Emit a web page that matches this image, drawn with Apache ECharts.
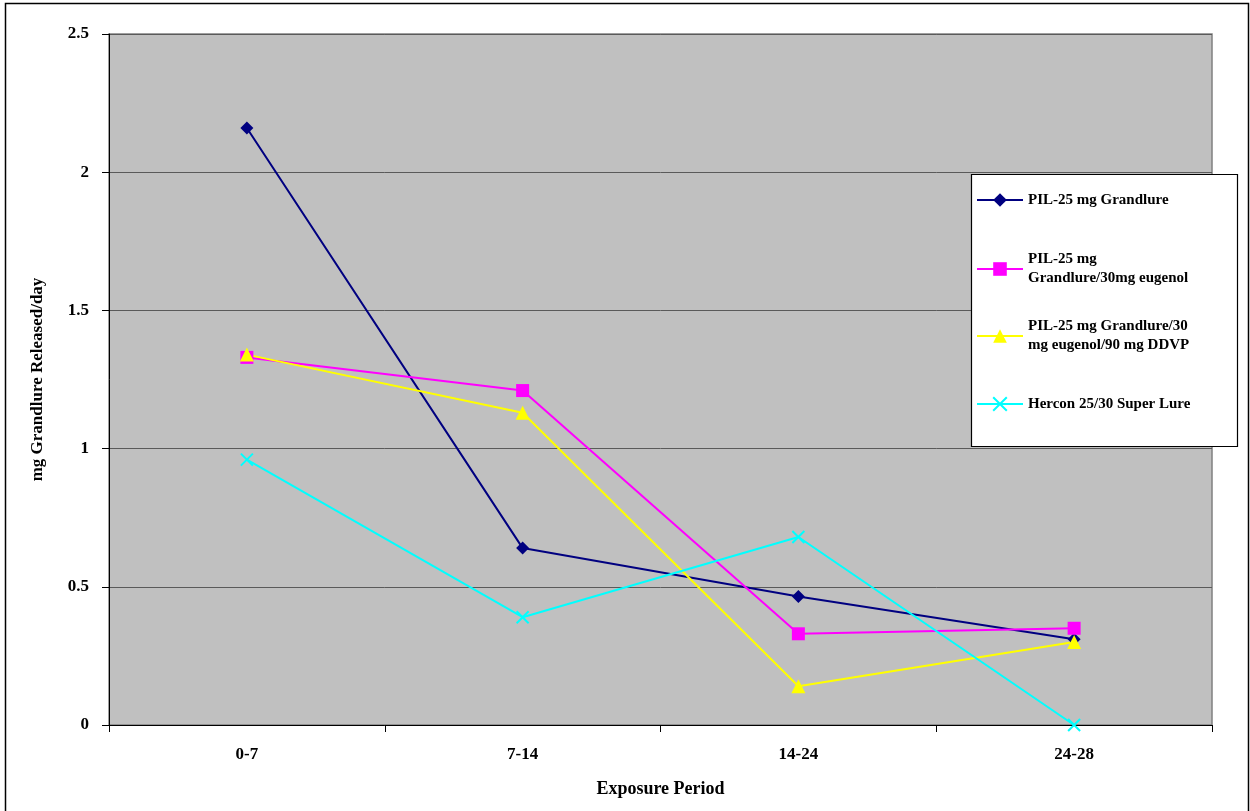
<!DOCTYPE html>
<html>
<head>
<meta charset="utf-8">
<script src="https://cdn.jsdelivr.net/npm/echarts@6/dist/echarts.min.js"></script>
<style>
  html, body { margin: 0; padding: 0; background: #ffffff; }
  #chart { width: 1250px; height: 811px; }
</style>
</head>
<body>
<div id="chart"></div>
<script>
// Exposure periods (days)
const periods = ['0-7', '7-14', '14-24', '24-28'];

// Series names
const nameA = 'PIL-25 mg Grandlure';
const nameB = 'PIL-25 mg\nGrandlure/30mg eugenol';
const nameC = 'PIL-25 mg Grandlure/30\nmg eugenol/90 mg DDVP';
const nameD = 'Hercon 25/30 Super Lure';

// mg Grandlure released per day
const grandlure        = [2.16, 0.64, 0.465, 0.31];
const grandlureEug     = [1.33, 1.21, 0.33, 0.35];
const grandlureEugDdvp = [1.34, 1.13, 0.14, 0.30];
const herconSuper      = [0.96, 0.39, 0.68, 0.0];

// Value axis ticks
const yTicks = [0, 0.5, 1, 1.5, 2, 2.5];

const FONT = "'Liberation Serif', 'Times New Roman', serif";
const crossPath = 'path://M0,0L10,10M10,0L0,10';

function lineSeries(name, data, color, symbol, size, extra) {
  return Object.assign({
    name: name,
    type: 'line',
    data: data,
    symbol: symbol,
    symbolSize: size,
    showAllSymbol: true,
    lineStyle: { color: color, width: 2 },
    itemStyle: { color: color, borderColor: color, borderWidth: 0 },
    emphasis: { disabled: true },
    animation: false,
    z: 5
  }, extra || {});
}

// One legend block per series so each entry sits at its own height
function legendFor(name, top, twoLine) {
  return {
    data: [{
      name: name,
      textStyle: twoLine ? { padding: [19, 0, 0, 0] } : {}
    }],
    left: 976,
    top: top,
    orient: 'vertical',
    padding: 0,
    itemWidth: 46,
    itemHeight: 17,
    selectedMode: false,
    z: 20,
    textStyle: {
      fontFamily: FONT,
      fontWeight: 'bold',
      fontSize: 15,
      lineHeight: 19,
      color: '#000000'
    }
  };
}

const chart = echarts.init(document.getElementById('chart'), null, { renderer: 'canvas' });

chart.setOption({
  backgroundColor: '#ffffff',
  animation: false,
  graphic: [
    {
      type: 'rect',
      shape: { x: 5.5, y: 3.5, width: 1243, height: 820 },
      style: { fill: 'none', stroke: '#000000', lineWidth: 1.5 },
      z: 0,
      silent: true
    },
    {
      type: 'rect',
      shape: { x: 971.5, y: 174.5, width: 266, height: 272 },
      style: { fill: '#ffffff', stroke: '#000000', lineWidth: 1.2 },
      z: 10,
      silent: true
    }
  ],
  legend: [
    legendFor(nameA, 190.5, false),
    legendFor(nameB, 240.5, true),
    legendFor(nameC, 307.5, true),
    legendFor(nameD, 394.5, false)
  ],
  grid: {
    left: 109,
    right: 38,
    top: 34,
    bottom: 86,
    show: true,
    backgroundColor: '#c0c0c0',
    borderColor: '#808080',
    borderWidth: 1.5
  },
  xAxis: {
    type: 'category',
    data: periods,
    boundaryGap: true,
    name: 'Exposure Period',
    nameLocation: 'middle',
    nameGap: 55,
    nameTextStyle: {
      fontFamily: FONT, fontWeight: 'bold', fontSize: 18, color: '#000000'
    },
    axisLine: { show: true, lineStyle: { color: '#000000', width: 1 } },
    axisTick: { show: true, interval: 0, length: 7, inside: false,
                lineStyle: { color: '#000000' } },
    axisLabel: {
      interval: 0, margin: 21,
      fontFamily: FONT, fontWeight: 'bold', fontSize: 17, color: '#000000'
    },
    splitLine: { show: false }
  },
  yAxis: {
    type: 'value',
    min: yTicks[0],
    max: yTicks[yTicks.length - 1],
    interval: 0.5,
    name: 'mg Grandlure Released/day',
    nameLocation: 'middle',
    nameRotate: 90,
    nameGap: 63,
    nameTextStyle: {
      fontFamily: FONT, fontWeight: 'bold', fontSize: 17, color: '#000000'
    },
    axisLine: { show: true, lineStyle: { color: '#000000', width: 1 } },
    axisTick: { show: true, length: 7, inside: false,
                lineStyle: { color: '#000000' } },
    axisLabel: {
      margin: 20,
      fontFamily: FONT, fontWeight: 'bold', fontSize: 17, color: '#000000',
      formatter: function (v) { return String(v); }
    },
    splitLine: { show: true, lineStyle: { color: '#5a5a5a', width: 1 } }
  },
  series: [
    lineSeries(nameA, grandlure, '#000080', 'diamond', 13),
    lineSeries(nameB, grandlureEug, '#ff00ff', 'rect', 13),
    lineSeries(nameC, grandlureEugDdvp, '#ffff00', 'triangle', 14),
    lineSeries(nameD, herconSuper, '#00ffff', crossPath, 12, {
      itemStyle: { color: 'none', borderColor: '#00ffff', borderWidth: 2 }
    })
  ]
});
</script>
</body>
</html>
